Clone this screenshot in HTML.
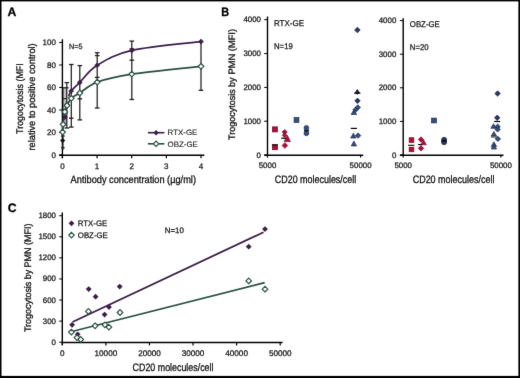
<!DOCTYPE html>
<html><head><meta charset="utf-8"><style>
html,body{margin:0;padding:0;background:#fff;}
svg{display:block;font-family:"Liberation Sans",sans-serif;}
text{stroke:#141214;stroke-width:0.3px;text-rendering:geometricPrecision;}
.t{stroke-width:0.25px;}
.l{stroke-width:0.08px;}
</style></head><body>
<svg width="520" height="378" viewBox="0 0 520 378" fill="#141214">
<defs><filter id="bl" filterUnits="userSpaceOnUse" x="0" y="0" width="520" height="378" color-interpolation-filters="sRGB"><feConvolveMatrix order="3" kernelMatrix="0.0052 0.0619 0.0052 0.0619 0.7314 0.0619 0.0052 0.0619 0.0052" edgeMode="duplicate" preserveAlpha="true"/></filter></defs>
<g filter="url(#bl)">
<rect width="520" height="378" fill="#fff"/>
<rect x="0" y="0" width="520" height="1.4" fill="#000"/>
<rect x="0" y="0" width="1.5" height="378" fill="#000"/>
<rect x="518.4" y="0" width="1.6" height="378" fill="#000"/>
<rect x="0" y="375.9" width="520" height="2.1" fill="#000"/>
<text x="7.6" y="15.9" font-size="12.2" font-weight="bold" fill="#000">A</text>
<line x1="62.4" y1="39.3" x2="62.4" y2="158.2" stroke="#000" stroke-width="1.4"/>
<line x1="59.1" y1="155.2" x2="204.3" y2="155.2" stroke="#000" stroke-width="1.4"/>
<line x1="59.2" y1="155" x2="62.4" y2="155" stroke="#000" stroke-width="1"/>
<text x="55.9" y="157.6" font-size="8" class="t" text-anchor="end">0</text>
<line x1="59.2" y1="132.49" x2="62.4" y2="132.49" stroke="#000" stroke-width="1"/>
<text x="55.9" y="135.09" font-size="8" class="t" text-anchor="end">20</text>
<line x1="59.2" y1="109.98" x2="62.4" y2="109.98" stroke="#000" stroke-width="1"/>
<text x="55.9" y="112.58" font-size="8" class="t" text-anchor="end">40</text>
<line x1="59.2" y1="87.48" x2="62.4" y2="87.48" stroke="#000" stroke-width="1"/>
<text x="55.9" y="90.08" font-size="8" class="t" text-anchor="end">60</text>
<line x1="59.2" y1="64.97" x2="62.4" y2="64.97" stroke="#000" stroke-width="1"/>
<text x="55.9" y="67.57" font-size="8" class="t" text-anchor="end">80</text>
<line x1="59.2" y1="42.46" x2="62.4" y2="42.46" stroke="#000" stroke-width="1"/>
<text x="55.9" y="45.06" font-size="8" class="t" text-anchor="end">100</text>
<line x1="62.4" y1="155" x2="62.4" y2="158.3" stroke="#000" stroke-width="1.2"/>
<text x="62.4" y="168.5" font-size="8" class="t" text-anchor="middle">0</text>
<line x1="97.05" y1="155" x2="97.05" y2="158.3" stroke="#000" stroke-width="1.2"/>
<text x="97.05" y="168.5" font-size="8" class="t" text-anchor="middle">1</text>
<line x1="131.7" y1="155" x2="131.7" y2="158.3" stroke="#000" stroke-width="1.2"/>
<text x="131.7" y="168.5" font-size="8" class="t" text-anchor="middle">2</text>
<line x1="166.35" y1="155" x2="166.35" y2="158.3" stroke="#000" stroke-width="1.2"/>
<text x="166.35" y="168.5" font-size="8" class="t" text-anchor="middle">3</text>
<line x1="201" y1="155" x2="201" y2="158.3" stroke="#000" stroke-width="1.2"/>
<text x="201" y="168.5" font-size="8" class="t" text-anchor="middle">4</text>
<text x="70.6" y="182.8" font-size="10.4" textLength="125.4" lengthAdjust="spacingAndGlyphs">Antibody concentration (µg/ml)</text>
<text x="23.3" y="133.9" font-size="9.7" textLength="70.6" lengthAdjust="spacingAndGlyphs" transform="rotate(-90 23.3 133.9)">Trogocytosis (MFI</text>
<text x="35.1" y="150.5" font-size="9.7" textLength="107.2" lengthAdjust="spacingAndGlyphs" transform="rotate(-90 35.1 150.5)">relative to positive control)</text>
<text x="69" y="49.4" font-size="7.6" class="t" textLength="13.4" lengthAdjust="spacingAndGlyphs">N=5</text>
<line x1="63.6" y1="87.8" x2="63.6" y2="126" stroke="#444" stroke-width="0.8"/>
<line x1="65" y1="87.8" x2="65" y2="126" stroke="#777" stroke-width="0.7"/>
<line x1="66.1" y1="87.8" x2="66.1" y2="126" stroke="#777" stroke-width="0.6"/>
<line x1="62.5" y1="98.6" x2="66.8" y2="98.6" stroke="#231f20" stroke-width="1.1"/>
<line x1="66.8" y1="82.6" x2="66.8" y2="128" stroke="#231f20" stroke-width="1.25"/>
<line x1="64.5" y1="82.6" x2="69.1" y2="82.6" stroke="#231f20" stroke-width="1.3"/>
<line x1="64.5" y1="128" x2="69.1" y2="128" stroke="#231f20" stroke-width="1.3"/>
<line x1="63.1" y1="87.8" x2="68.6" y2="87.8" stroke="#231f20" stroke-width="1.3"/>
<line x1="71.3" y1="64.5" x2="71.3" y2="127.1" stroke="#231f20" stroke-width="1.25"/>
<line x1="69" y1="64.5" x2="73.6" y2="64.5" stroke="#231f20" stroke-width="1.3"/>
<line x1="69" y1="118.2" x2="73.6" y2="118.2" stroke="#231f20" stroke-width="1.3"/>
<line x1="69" y1="127.1" x2="73.6" y2="127.1" stroke="#231f20" stroke-width="1.3"/>
<line x1="79.8" y1="65.6" x2="79.8" y2="119.9" stroke="#231f20" stroke-width="1.25"/>
<line x1="77.5" y1="65.6" x2="82.1" y2="65.6" stroke="#231f20" stroke-width="1.3"/>
<line x1="77.5" y1="98.8" x2="82.1" y2="98.8" stroke="#231f20" stroke-width="1.3"/>
<line x1="77.5" y1="119.9" x2="82.1" y2="119.9" stroke="#231f20" stroke-width="1.3"/>
<line x1="97.2" y1="52.7" x2="97.2" y2="108" stroke="#231f20" stroke-width="1.25"/>
<line x1="94.9" y1="52.7" x2="99.5" y2="52.7" stroke="#231f20" stroke-width="1.3"/>
<line x1="94.9" y1="55.6" x2="99.5" y2="55.6" stroke="#231f20" stroke-width="1.3"/>
<line x1="94.9" y1="77.4" x2="99.5" y2="77.4" stroke="#231f20" stroke-width="1.3"/>
<line x1="94.9" y1="108" x2="99.5" y2="108" stroke="#231f20" stroke-width="1.3"/>
<line x1="131.8" y1="41.1" x2="131.8" y2="99.5" stroke="#231f20" stroke-width="1.25"/>
<line x1="129.5" y1="41.1" x2="134.1" y2="41.1" stroke="#231f20" stroke-width="1.3"/>
<line x1="129.5" y1="48.8" x2="134.1" y2="48.8" stroke="#231f20" stroke-width="1.3"/>
<line x1="129.5" y1="60.2" x2="134.1" y2="60.2" stroke="#231f20" stroke-width="1.3"/>
<line x1="129.5" y1="99.5" x2="134.1" y2="99.5" stroke="#231f20" stroke-width="1.3"/>
<line x1="201" y1="41.6" x2="201" y2="90.3" stroke="#231f20" stroke-width="1.25"/>
<line x1="198.7" y1="90.3" x2="203.3" y2="90.3" stroke="#231f20" stroke-width="1.3"/>
<line x1="62.9" y1="128" x2="62.9" y2="150" stroke="#231f20" stroke-width="1.25"/>
<line x1="61.1" y1="136" x2="64.7" y2="136" stroke="#231f20" stroke-width="1.3"/>
<line x1="61.1" y1="147.7" x2="64.7" y2="147.7" stroke="#231f20" stroke-width="1.3"/>
<path d="M68.6 96.5 C69.03 95.58 69.33 93.35 71.2 91 C73.07 88.65 75.47 86.68 79.8 82.4 C84.13 78.12 88.53 70.63 97.2 65.3 C105.87 59.97 114.5 54.35 131.8 50.4 C149.1 46.45 189.47 43.07 201 41.6" fill="none" stroke="#3d1f49" stroke-width="1.7"/>
<path d="M62.6 132.1 C62.68 130.8 62.73 127.67 63.1 124.3 C63.47 120.93 64.15 115.03 64.8 111.9 C65.45 108.77 65.92 107.77 67 105.5 C68.08 103.23 69.17 100.38 71.3 98.3 C73.43 96.22 75.48 95.7 79.8 93 C84.12 90.3 88.53 85.25 97.2 82.1 C105.87 78.95 114.5 76.73 131.8 74.1 C149.1 71.47 189.47 67.6 201 66.3" fill="none" stroke="#295141" stroke-width="1.7"/>
<polygon points="64.9,114.4 67.7,117.2 64.9,120 62.1,117.2" fill="#3d1f49"/>
<polygon points="67,101.7 69.8,104.5 67,107.3 64.2,104.5" fill="#3d1f49"/>
<polygon points="71.2,88.2 74,91 71.2,93.8 68.4,91" fill="#3d1f49"/>
<polygon points="79.8,79.6 82.6,82.4 79.8,85.2 77,82.4" fill="#3d1f49"/>
<polygon points="97.2,62.5 100,65.3 97.2,68.1 94.4,65.3" fill="#3d1f49"/>
<polygon points="131.8,47.6 134.6,50.4 131.8,53.2 129,50.4" fill="#3d1f49"/>
<polygon points="201,38.8 203.8,41.6 201,44.4 198.2,41.6" fill="#3d1f49"/>
<polygon points="62.7,137.9 65.3,140.5 62.7,143.1 60.1,140.5" fill="#111"/>
<polygon points="62.6,129.3 65.4,132.1 62.6,134.9 59.8,132.1" fill="#fff" stroke="#295141" stroke-width="1.2"/>
<polygon points="63.1,121.5 65.9,124.3 63.1,127.1 60.3,124.3" fill="#fff" stroke="#295141" stroke-width="1.2"/>
<polygon points="64.8,109.1 67.6,111.9 64.8,114.7 62,111.9" fill="#fff" stroke="#295141" stroke-width="1.2"/>
<polygon points="67,102.7 69.8,105.5 67,108.3 64.2,105.5" fill="#fff" stroke="#295141" stroke-width="1.2"/>
<polygon points="71.3,95.5 74.1,98.3 71.3,101.1 68.5,98.3" fill="#fff" stroke="#295141" stroke-width="1.2"/>
<polygon points="79.8,90.2 82.6,93 79.8,95.8 77,93" fill="#fff" stroke="#295141" stroke-width="1.2"/>
<polygon points="97.2,79.3 100,82.1 97.2,84.9 94.4,82.1" fill="#fff" stroke="#295141" stroke-width="1.2"/>
<polygon points="131.8,71.3 134.6,74.1 131.8,76.9 129,74.1" fill="#fff" stroke="#295141" stroke-width="1.2"/>
<polygon points="201,63.5 203.8,66.3 201,69.1 198.2,66.3" fill="#fff" stroke="#295141" stroke-width="1.2"/>
<line x1="147.9" y1="132.7" x2="164.4" y2="132.7" stroke="#3d1f49" stroke-width="1.6"/>
<polygon points="156.1,130 158.8,132.7 156.1,135.4 153.4,132.7" fill="#3d1f49"/>
<text x="167.6" y="135.3" font-size="7.8" class="l" textLength="29.8" lengthAdjust="spacingAndGlyphs">RTX-GE</text>
<line x1="147.9" y1="143.8" x2="164.4" y2="143.8" stroke="#295141" stroke-width="1.6"/>
<polygon points="156.1,141.1 158.8,143.8 156.1,146.5 153.4,143.8" fill="#fff" stroke="#295141" stroke-width="1.2"/>
<text x="167.6" y="146.6" font-size="7.8" class="l" textLength="30.3" lengthAdjust="spacingAndGlyphs">OBZ-GE</text>
<text x="221.2" y="15.9" font-size="12.2" textLength="7.9" lengthAdjust="spacingAndGlyphs" font-weight="bold" fill="#000">B</text>
<line x1="267.5" y1="16.5" x2="267.5" y2="155.5" stroke="#000" stroke-width="1.4"/>
<line x1="264.2" y1="155.2" x2="363.2" y2="155.2" stroke="#000" stroke-width="1.45"/>
<line x1="264.2" y1="155" x2="267.5" y2="155" stroke="#000" stroke-width="1"/>
<text x="261" y="157.5" font-size="7.9" class="t" text-anchor="end">0</text>
<line x1="264.2" y1="121.2" x2="267.5" y2="121.2" stroke="#000" stroke-width="1"/>
<text x="261" y="123.7" font-size="7.9" class="t" text-anchor="end">1000</text>
<line x1="264.2" y1="87.4" x2="267.5" y2="87.4" stroke="#000" stroke-width="1"/>
<text x="261" y="89.9" font-size="7.9" class="t" text-anchor="end">2000</text>
<line x1="264.2" y1="53.6" x2="267.5" y2="53.6" stroke="#000" stroke-width="1"/>
<text x="261" y="56.1" font-size="7.9" class="t" text-anchor="end">3000</text>
<line x1="264.2" y1="19.7" x2="267.5" y2="19.7" stroke="#000" stroke-width="1"/>
<text x="261" y="22.2" font-size="7.9" class="t" text-anchor="end">4000</text>
<line x1="267.5" y1="155" x2="267.5" y2="157.6" stroke="#000" stroke-width="1.2"/>
<line x1="360.6" y1="155" x2="360.6" y2="157.6" stroke="#000" stroke-width="1.2"/>
<text x="267.5" y="168.3" font-size="7.9" class="t" text-anchor="middle">5000</text>
<text x="360.6" y="168.3" font-size="7.9" class="t" text-anchor="middle">50000</text>
<text x="274.8" y="183" font-size="10.7" textLength="81.4" lengthAdjust="spacingAndGlyphs">CD20 molecules/cell</text>
<text x="274" y="26.3" font-size="8.3" class="t" textLength="30" lengthAdjust="spacingAndGlyphs">RTX-GE</text>
<text x="274" y="49.4" font-size="8.3" class="t" textLength="18.8" lengthAdjust="spacingAndGlyphs">N=19</text>
<text x="234.9" y="139.9" font-size="9.4" textLength="62.5" lengthAdjust="spacingAndGlyphs" transform="rotate(-90 234.9 139.9)">Trogocytosis by</text>
<text x="234.9" y="74.6" font-size="9.4" textLength="45.7" lengthAdjust="spacingAndGlyphs" transform="rotate(-90 234.9 74.6)">PMN (MFI)</text>
<line x1="403.2" y1="18.3" x2="403.2" y2="155.5" stroke="#000" stroke-width="1.4"/>
<line x1="399.9" y1="155.2" x2="503.5" y2="155.2" stroke="#000" stroke-width="1.45"/>
<line x1="399.9" y1="155" x2="403.2" y2="155" stroke="#000" stroke-width="1"/>
<text x="396.3" y="157.5" font-size="7.9" class="t" text-anchor="end">0</text>
<line x1="399.9" y1="121.4" x2="403.2" y2="121.4" stroke="#000" stroke-width="1"/>
<text x="396.3" y="123.9" font-size="7.9" class="t" text-anchor="end">1000</text>
<line x1="399.9" y1="87.8" x2="403.2" y2="87.8" stroke="#000" stroke-width="1"/>
<text x="396.3" y="90.3" font-size="7.9" class="t" text-anchor="end">2000</text>
<line x1="399.9" y1="54.2" x2="403.2" y2="54.2" stroke="#000" stroke-width="1"/>
<text x="396.3" y="56.7" font-size="7.9" class="t" text-anchor="end">3000</text>
<line x1="399.9" y1="20.6" x2="403.2" y2="20.6" stroke="#000" stroke-width="1"/>
<text x="396.3" y="23.1" font-size="7.9" class="t" text-anchor="end">4000</text>
<line x1="403.2" y1="155" x2="403.2" y2="157.6" stroke="#000" stroke-width="1.2"/>
<line x1="500.9" y1="155" x2="500.9" y2="157.6" stroke="#000" stroke-width="1.2"/>
<text x="403.2" y="168.3" font-size="7.9" class="t" text-anchor="middle">5000</text>
<text x="500.9" y="168.3" font-size="7.9" class="t" text-anchor="middle">50000</text>
<text x="412.7" y="183" font-size="10.7" textLength="81.7" lengthAdjust="spacingAndGlyphs">CD20 molecules/cell</text>
<text x="409.8" y="26.7" font-size="8.3" class="t" textLength="30" lengthAdjust="spacingAndGlyphs">OBZ-GE</text>
<text x="409.8" y="49.6" font-size="8.3" class="t" textLength="18.8" lengthAdjust="spacingAndGlyphs">N=20</text>
<rect x="272.35" y="126.85" width="5.1" height="5.1" fill="#b20c3a" stroke="#7a0a2a" stroke-width="0.7"/>
<rect x="272.35" y="144.65" width="5.1" height="5.1" fill="#b20c3a" stroke="#7a0a2a" stroke-width="0.7"/>
<polygon points="284.7,129.5 287.3,132.1 284.7,134.7 282.1,132.1" fill="#b20c3a" stroke="#7a0a2a" stroke-width="0.7"/>
<polygon points="284.6,132.9 286.9,135.2 284.6,137.5 282.3,135.2" fill="#b20c3a" stroke="#7a0a2a" stroke-width="0.7"/>
<polygon points="287.3,135.2 290.4,141.6 284.2,141.6" fill="#b20c3a" stroke="#7a0a2a" stroke-width="0.7" stroke-linejoin="round"/>
<line x1="271.9" y1="145" x2="277.9" y2="145" stroke="#000" stroke-width="1"/>
<polygon points="284.9,142.7 287.7,145.5 284.9,148.3 282.1,145.5" fill="#b20c3a" stroke="#7a0a2a" stroke-width="0.7"/>
<line x1="281.2" y1="138.2" x2="286" y2="138.2" stroke="#000" stroke-width="1.2"/>
<rect x="294.1" y="117.6" width="4.8" height="4.8" fill="#33517f" stroke="#1c2b4d" stroke-width="0.7"/>
<circle cx="306.4" cy="128" r="2.4" fill="#33517f" stroke="#1c2b4d" stroke-width="0.7"/>
<circle cx="306.4" cy="133.3" r="2.4" fill="#33517f" stroke="#1c2b4d" stroke-width="0.7"/>
<line x1="303.9" y1="130.8" x2="309.1" y2="130.8" stroke="#000" stroke-width="1.2"/>
<polygon points="357.4,27.2 360.2,30 357.4,32.8 354.6,30" fill="#2a3a66" stroke="#161d33" stroke-width="0.7"/>
<polygon points="357.3,89 360.4,93.6 354.2,93.6" fill="#1c2238"/>
<polygon points="357.3,91.2 359.1,93 357.3,94.8 355.5,93" fill="#1c2238"/>
<line x1="354.2" y1="93.2" x2="360.4" y2="93.2" stroke="#111" stroke-width="1.1"/>
<polygon points="357.5,98.1 360.2,100.8 357.5,103.5 354.8,100.8" fill="#2a3a66" stroke="#161d33" stroke-width="0.7"/>
<polygon points="357.8,104.7 360.5,107.4 357.8,110.1 355.1,107.4" fill="#33517f" stroke="#1c2b4d" stroke-width="0.7"/>
<polygon points="355.6,107.1 358.3,109.8 355.6,112.5 352.9,109.8" fill="#33517f" stroke="#1c2b4d" stroke-width="0.7"/>
<polygon points="353.9,109.55 356.6,114.45 351.2,114.45" fill="#33517f" stroke="#1c2b4d" stroke-width="0.7" stroke-linejoin="round"/>
<line x1="350.8" y1="128.4" x2="357" y2="128.4" stroke="#000" stroke-width="1.2"/>
<polygon points="353.4,133.15 356.1,138.05 350.7,138.05" fill="#33517f" stroke="#1c2b4d" stroke-width="0.7" stroke-linejoin="round"/>
<polygon points="358.1,132.9 360.8,135.6 358.1,138.3 355.4,135.6" fill="#33517f" stroke="#1c2b4d" stroke-width="0.7"/>
<polygon points="353.9,141.05 356.6,145.95 351.2,145.95" fill="#33517f" stroke="#1c2b4d" stroke-width="0.7" stroke-linejoin="round"/>
<rect x="409.15" y="137.75" width="4.7" height="4.7" fill="#b20c3a" stroke="#7a0a2a" stroke-width="0.7"/>
<rect x="409.15" y="147.05" width="4.7" height="4.7" fill="#b20c3a" stroke="#7a0a2a" stroke-width="0.7"/>
<line x1="408.1" y1="145.3" x2="414.4" y2="145.3" stroke="#fff" stroke-width="2.6"/>
<line x1="408.1" y1="145.3" x2="414.4" y2="145.3" stroke="#000" stroke-width="1.1"/>
<polygon points="421,136.8 423.7,139.5 421,142.2 418.3,139.5" fill="#b20c3a" stroke="#7a0a2a" stroke-width="0.7"/>
<polygon points="423.5,139.85 426.3,144.75 420.7,144.75" fill="#b20c3a" stroke="#7a0a2a" stroke-width="0.7" stroke-linejoin="round"/>
<polygon points="421,145.6 423.7,148.3 421,151 418.3,148.3" fill="#b20c3a" stroke="#7a0a2a" stroke-width="0.7"/>
<line x1="418" y1="144.6" x2="421.8" y2="144.6" stroke="#000" stroke-width="1.1"/>
<rect x="431.6" y="118.1" width="4.8" height="4.8" fill="#33517f" stroke="#1c2b4d" stroke-width="0.7"/>
<circle cx="444.1" cy="139.8" r="2.5" fill="#2a3a66" stroke="#161d33" stroke-width="0.7"/>
<circle cx="444.1" cy="142.2" r="2.5" fill="#2a3a66" stroke="#161d33" stroke-width="0.7"/>
<line x1="441.5" y1="141" x2="446.7" y2="141" stroke="#000" stroke-width="1.2"/>
<polygon points="497.6,90.8 500.3,93.5 497.6,96.2 494.9,93.5" fill="#2a3a66" stroke="#161d33" stroke-width="0.7"/>
<polygon points="497.2,115.1 499.9,117.8 497.2,120.5 494.5,117.8" fill="#2a3a66" stroke="#161d33" stroke-width="0.7"/>
<line x1="494.2" y1="121.5" x2="500.1" y2="121.5" stroke="#000" stroke-width="1.2"/>
<polygon points="493.5,123.7 496.2,128.3 490.8,128.3" fill="#33517f" stroke="#1c2b4d" stroke-width="0.7" stroke-linejoin="round"/>
<polygon points="497.6,124 500.3,126.7 497.6,129.4 494.9,126.7" fill="#33517f" stroke="#1c2b4d" stroke-width="0.7"/>
<polygon points="497.6,126.7 500.3,129.4 497.6,132.1 494.9,129.4" fill="#33517f" stroke="#1c2b4d" stroke-width="0.7"/>
<polygon points="493.9,131.5 496.6,136.1 491.2,136.1" fill="#33517f" stroke="#1c2b4d" stroke-width="0.7" stroke-linejoin="round"/>
<line x1="490.9" y1="137" x2="496.8" y2="137" stroke="#333" stroke-width="1.1"/>
<polygon points="497.9,136.2 500.6,138.9 497.9,141.6 495.2,138.9" fill="#33517f" stroke="#1c2b4d" stroke-width="0.7"/>
<polygon points="493.9,141.8 496.6,146.4 491.2,146.4" fill="#33517f" stroke="#1c2b4d" stroke-width="0.7" stroke-linejoin="round"/>
<polygon points="493.9,144.4 496.6,149 491.2,149" fill="#33517f" stroke="#1c2b4d" stroke-width="0.7" stroke-linejoin="round"/>
<text x="7.8" y="211.8" font-size="12.2" font-weight="bold" fill="#000">C</text>
<line x1="62.3" y1="212.6" x2="62.3" y2="345" stroke="#000" stroke-width="1.4"/>
<line x1="62.3" y1="342.5" x2="282.6" y2="342.5" stroke="#000" stroke-width="1.45"/>
<line x1="59.2" y1="342.2" x2="62.3" y2="342.2" stroke="#000" stroke-width="1"/>
<text x="56" y="344.7" font-size="7.9" class="t" text-anchor="end">0</text>
<line x1="59.2" y1="321.12" x2="62.3" y2="321.12" stroke="#000" stroke-width="1"/>
<text x="56" y="323.62" font-size="7.9" class="t" text-anchor="end">300</text>
<line x1="59.2" y1="300.04" x2="62.3" y2="300.04" stroke="#000" stroke-width="1"/>
<text x="56" y="302.54" font-size="7.9" class="t" text-anchor="end">600</text>
<line x1="59.2" y1="278.96" x2="62.3" y2="278.96" stroke="#000" stroke-width="1"/>
<text x="56" y="281.46" font-size="7.9" class="t" text-anchor="end">900</text>
<line x1="59.2" y1="257.88" x2="62.3" y2="257.88" stroke="#000" stroke-width="1"/>
<text x="56" y="260.38" font-size="7.9" class="t" text-anchor="end">1200</text>
<line x1="59.2" y1="236.8" x2="62.3" y2="236.8" stroke="#000" stroke-width="1"/>
<text x="56" y="239.3" font-size="7.9" class="t" text-anchor="end">1500</text>
<line x1="59.2" y1="215.72" x2="62.3" y2="215.72" stroke="#000" stroke-width="1"/>
<text x="56" y="218.22" font-size="7.9" class="t" text-anchor="end">1800</text>
<line x1="62.3" y1="342.2" x2="62.3" y2="345.4" stroke="#000" stroke-width="1.2"/>
<text x="62.3" y="356.1" font-size="8.15" class="t" text-anchor="middle">0</text>
<line x1="105.88" y1="342.2" x2="105.88" y2="345.4" stroke="#000" stroke-width="1.2"/>
<text x="105.88" y="356.1" font-size="8.15" class="t" text-anchor="middle">10000</text>
<line x1="149.46" y1="342.2" x2="149.46" y2="345.4" stroke="#000" stroke-width="1.2"/>
<text x="149.46" y="356.1" font-size="8.15" class="t" text-anchor="middle">20000</text>
<line x1="193.04" y1="342.2" x2="193.04" y2="345.4" stroke="#000" stroke-width="1.2"/>
<text x="193.04" y="356.1" font-size="8.15" class="t" text-anchor="middle">30000</text>
<line x1="236.62" y1="342.2" x2="236.62" y2="345.4" stroke="#000" stroke-width="1.2"/>
<text x="236.62" y="356.1" font-size="8.15" class="t" text-anchor="middle">40000</text>
<line x1="280.2" y1="342.2" x2="280.2" y2="345.4" stroke="#000" stroke-width="1.2"/>
<text x="280.2" y="356.1" font-size="8.15" class="t" text-anchor="middle">50000</text>
<text x="132.6" y="370.7" font-size="10.7" textLength="80.9" lengthAdjust="spacingAndGlyphs">CD20 molecules/cell</text>
<text x="30.9" y="332.1" font-size="9.5" textLength="62.4" lengthAdjust="spacingAndGlyphs" transform="rotate(-90 30.9 332.1)">Trogocytosis by</text>
<text x="30.9" y="267.6" font-size="9.5" textLength="44.2" lengthAdjust="spacingAndGlyphs" transform="rotate(-90 30.9 267.6)">PMN (MFI)</text>
<polygon points="71.5,220.4 74.4,223.3 71.5,226.2 68.6,223.3" fill="#3d1f49"/>
<text x="77.8" y="225.7" font-size="8" class="t" textLength="29.4" lengthAdjust="spacingAndGlyphs">RTX-GE</text>
<polygon points="71.5,232.4 74.2,235.1 71.5,237.8 68.8,235.1" fill="#fff" stroke="#295141" stroke-width="1.2"/>
<text x="77.8" y="237.5" font-size="8" class="t" textLength="30" lengthAdjust="spacingAndGlyphs">OBZ-GE</text>
<text x="164.7" y="233.3" font-size="8" class="t" textLength="19.1" lengthAdjust="spacingAndGlyphs">N=10</text>
<line x1="72.5" y1="322" x2="263.5" y2="232.2" stroke="#3d1f49" stroke-width="1.8"/>
<line x1="72.9" y1="331.3" x2="264.7" y2="282.6" stroke="#295141" stroke-width="1.7"/>
<polygon points="72.1,321.9 75,324.8 72.1,327.7 69.2,324.8" fill="#3d1f49"/>
<polygon points="77.7,331.4 80.6,334.3 77.7,337.2 74.8,334.3" fill="#3d1f49"/>
<polygon points="88.7,286.2 91.6,289.1 88.7,292 85.8,289.1" fill="#3d1f49"/>
<polygon points="95.6,293.8 98.5,296.7 95.6,299.6 92.7,296.7" fill="#3d1f49"/>
<polygon points="104.6,311.7 107.5,314.6 104.6,317.5 101.7,314.6" fill="#3d1f49"/>
<polygon points="109,304.2 111.9,307.1 109,310 106.1,307.1" fill="#3d1f49"/>
<polygon points="119.7,283.7 122.6,286.6 119.7,289.5 116.8,286.6" fill="#3d1f49"/>
<polygon points="248.7,243.8 251.6,246.7 248.7,249.6 245.8,246.7" fill="#3d1f49"/>
<polygon points="265,226.2 267.9,229.1 265,232 262.1,229.1" fill="#3d1f49"/>
<polygon points="71.4,329.3 74.2,332.1 71.4,334.9 68.6,332.1" fill="#fff" stroke="#295141" stroke-width="1.2"/>
<polygon points="77,334.8 79.8,337.6 77,340.4 74.2,337.6" fill="#fff" stroke="#295141" stroke-width="1.2"/>
<polygon points="80.7,336.7 83.5,339.5 80.7,342.3 77.9,339.5" fill="#fff" stroke="#295141" stroke-width="1.2"/>
<polygon points="88.4,308.6 91.2,311.4 88.4,314.2 85.6,311.4" fill="#fff" stroke="#295141" stroke-width="1.2"/>
<polygon points="95.1,323 97.9,325.8 95.1,328.6 92.3,325.8" fill="#fff" stroke="#295141" stroke-width="1.2"/>
<polygon points="105,322.1 107.8,324.9 105,327.7 102.2,324.9" fill="#fff" stroke="#295141" stroke-width="1.2"/>
<polygon points="108.9,324.3 111.7,327.1 108.9,329.9 106.1,327.1" fill="#fff" stroke="#295141" stroke-width="1.2"/>
<polygon points="120,309.7 122.8,312.5 120,315.3 117.2,312.5" fill="#fff" stroke="#295141" stroke-width="1.2"/>
<polygon points="248.7,278.1 251.5,280.9 248.7,283.7 245.9,280.9" fill="#fff" stroke="#295141" stroke-width="1.2"/>
<polygon points="265,286.4 267.8,289.2 265,292 262.2,289.2" fill="#fff" stroke="#295141" stroke-width="1.2"/>
</g>
</svg>
</body></html>
